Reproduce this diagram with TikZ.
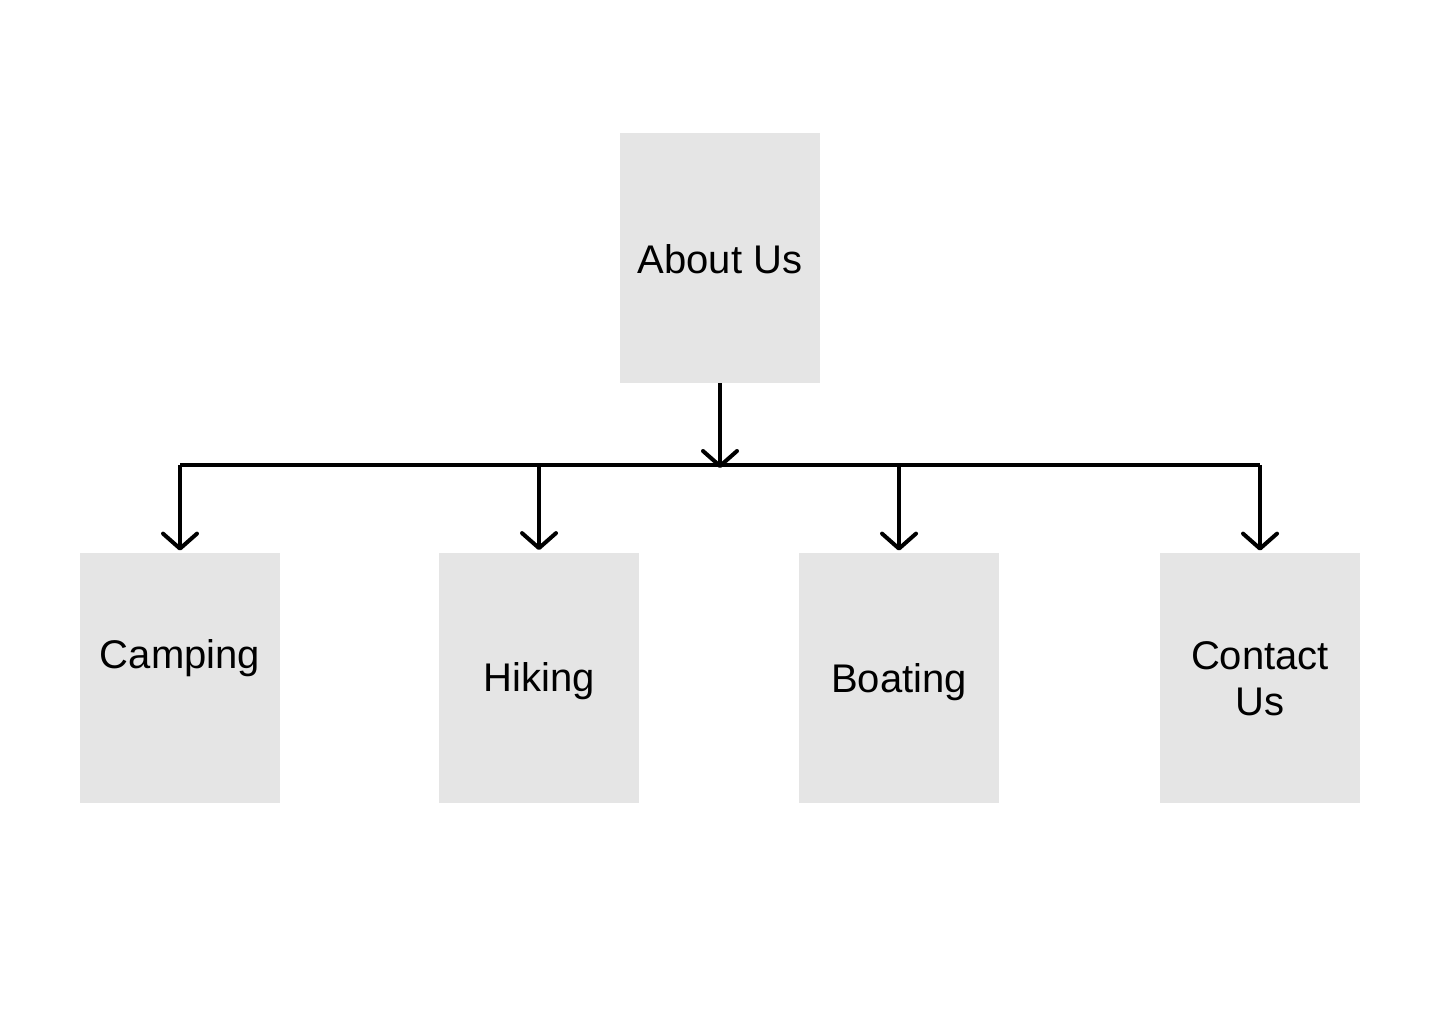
\documentclass[tikz,border=0pt]{standalone}
\usepackage{fontspec}
\setmainfont{Liberation Sans}
\usetikzlibrary{arrows.meta}
\definecolor{boxgray}{RGB}{229,229,229}
\begin{document}
\begin{tikzpicture}[x=0.5pt,y=-0.5pt,
  box/.style={fill=boxgray,draw=none,minimum width=100pt,minimum height=125pt,inner sep=0pt},
  lbl/.style={font=\fontsize{20}{23}\selectfont,align=center,inner sep=0pt},
  conn/.style={line width=2pt,black},
  arr/.style={conn,-{Straight Barb[length=7.5pt,width=17pt,line cap=round,line join=round]}}]
\useasboundingbox (0,0) rectangle (1440,1024);
\node[box] (about) at (720,258) {};
\node[lbl] (aboutt) at (720,259) {About Us};
\node[box] (camp) at (180,678) {};
\node[lbl] (campt) at (180,658) {Camping};
\node[box] (hike) at (539,677.5) {};
\node[lbl] (hiket) at (539,681) {Hiking};
\node[box] (boat) at (899,678) {};
\node[lbl] (boatt) at (899,682) {Boating};
\node[box] (contact) at (1260,678) {};
\node[lbl] (contactt) at (1260,679) {Contact\\Us};
\coordinate (hl) at (180,465);
\coordinate (hr) at (1260,465);
\draw[conn] (hl) -- (hr);
\draw[arr] (about.south) -- ([yshift=-1.5pt]about.south |- hl);
\draw[arr] (hl) -- ([yshift=1pt]camp.north);
\draw[arr] (hike.north |- hl) -- ([yshift=1pt]hike.north);
\draw[arr] (boat.north |- hl) -- ([yshift=1pt]boat.north);
\draw[arr] (hr) -- ([yshift=1pt]contact.north);
\end{tikzpicture}
\end{document}
